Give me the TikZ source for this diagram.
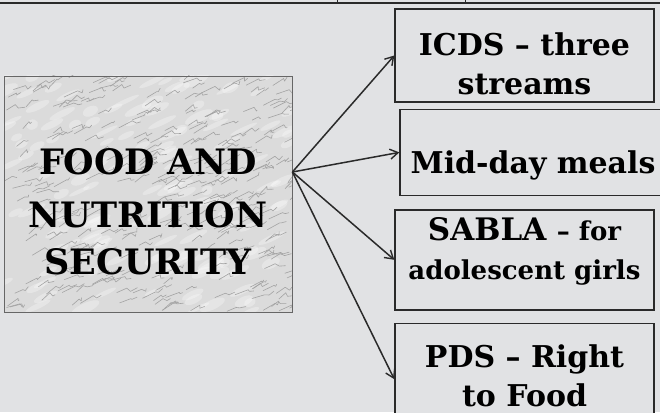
\documentclass[tikz,border=0pt]{standalone}
\usepackage{fontspec}
\setmainfont{DejaVu Serif}
\usetikzlibrary{positioning,calc,arrows.meta}
\definecolor{panelgray}{HTML}{E1E2E4}
\definecolor{inkgray}{HTML}{2A2A2A}
\tikzstyle{prog}=[rectangle,line width=1.4pt,draw=inkgray,fill=panelgray,align=center,inner sep=0pt,font=\bfseries\fontsize{30}{39}\selectfont]
\tikzstyle{marble}=[rectangle,line width=0.8pt,draw=black!60,align=center,inner sep=0pt,font=\bfseries\fontsize{35}{47}\selectfont]
\tikzstyle{feed}=[-{Straight Barb[length=8pt,width=10pt,line width=1.4pt]},line width=1.5pt,draw=inkgray]
\newcommand{\smalltxt}{\fontsize{26}{37}\selectfont}
\pgfdeclarelayer{back}
\pgfsetlayers{back,main}

\begin{document}
\begin{tikzpicture}[x=1pt,y=1pt]
    \useasboundingbox (0,0) rectangle (660,-412);
    % leftover rule of the page above
    \draw[line width=1.2pt,inkgray] (0,-3) -- (660,-3);
    \draw[line width=1pt,inkgray] (337,0) -- (337,-3) (465,0) -- (465,-3);

    \node (fns) [marble,minimum width=288,minimum height=236,text height=160pt,text depth=0pt] at (148,-194) {FOOD AND\\[6pt]NUTRITION\\SECURITY};
    \coordinate (hub) at ($(fns.east)+(0,22)$);

    \node (icds) [prog,minimum width=259,minimum height=93,text height=77pt,text depth=0pt] at (524.5,-55.5) {ICDS -- three\\streams};
    \node (mdm) [prog,anchor=north west,minimum width=266,minimum height=86,text height=48pt,text depth=6pt] at ($(icds.south west)+(5,-6)$) {Mid-day meals};
    \node (sabla) [prog,anchor=north west,minimum width=259,minimum height=100,text height=46pt,text depth=6pt] at ($(mdm.south west)+(-5,-13)$) {{\fontsize{31}{37}\selectfont SABLA} {\smalltxt -- for}\\{\smalltxt adolescent girls}};
    \node (pds) [prog,below=12 of sabla,minimum width=259,minimum height=112,text height=54pt,text depth=0pt] {PDS -- Right\\to Food};

    \draw[feed] (hub) -- (icds.west);
    \draw[feed] (hub) -- (mdm.west);
    \draw[feed] (hub) -- (sabla.west);
    \draw[feed] (hub) -- (pds.west);

    \begin{pgfonlayer}{back}
      \fill[panelgray] (0,0) rectangle (660,-412);
      \fill[black!14] (fns.south west) rectangle (fns.north east);
      \begin{scope}
        \clip (fns.south west) rectangle (fns.north east);
        \pgfmathsetseed{11}
        \foreach \k in {1,...,150}{
          \pgfmathsetmacro{\px}{4+288*rnd}
          \pgfmathsetmacro{\py}{-76-236*rnd}
          \fill[white,opacity=0.3,rotate around={25:(\px,\py)}] (\px,\py) ellipse ({6+10*rnd} and {2+3*rnd});
        }
        \foreach \k in {1,...,300}{
          \pgfmathsetmacro{\px}{4+288*rnd}
          \pgfmathsetmacro{\py}{-76-236*rnd}
          \draw[black!36,line width=0.6pt,line join=round] (\px,\py) -- ++(6+8*rnd,3+5*rnd) -- ++(5*rnd,-4*rnd) -- ++(7*rnd,4*rnd);
        }
      \end{scope}
    \end{pgfonlayer}
\end{tikzpicture}
\end{document}
